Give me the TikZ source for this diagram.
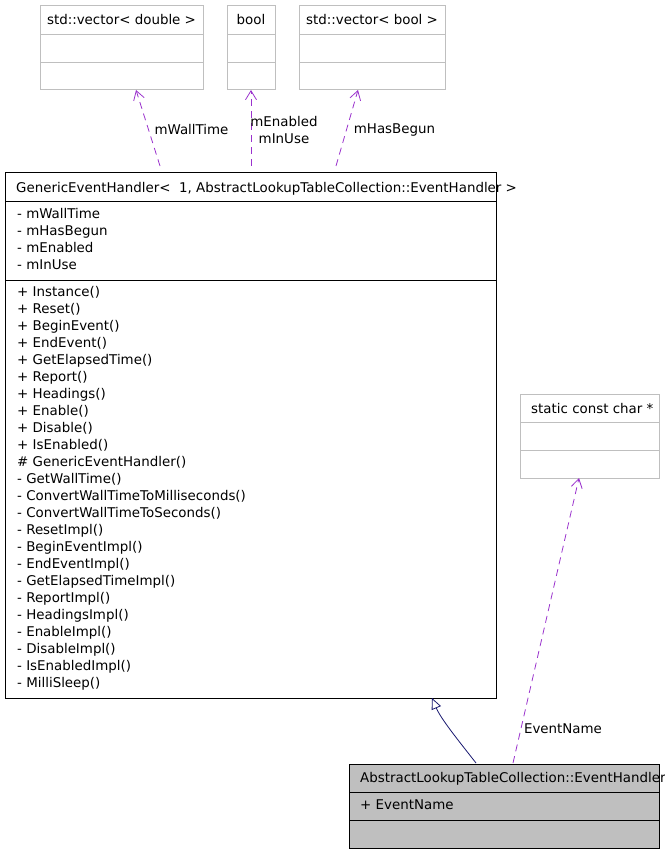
\documentclass[tikz,border=0pt]{standalone}
\usepackage{fontspec}
\setmainfont{DejaVu Sans}
\usetikzlibrary{arrows.meta}

\definecolor{depcol}{HTML}{9A32CD}
\definecolor{inhcol}{HTML}{191970}

\tikzset{
  classbox/.style={draw, rectangle, anchor=north west, inner sep=0pt, outer sep=0pt, line width=1pt},
  typebox/.style={classbox, draw=black!25},
  member/.style={anchor=base west, inner sep=0pt},
  usage/.style={draw=depcol, dash pattern=on 7pt off 5pt, line width=0.8pt, -{Straight Barb[length=9pt,width=11pt]}},
  inherit/.style={draw=inhcol, line width=0.8pt, -{Triangle[open,length=11pt,width=10pt]}},
  edgelabel/.style={inner sep=0pt, align=center},
}

\begin{document}
\begin{tikzpicture}[x=1pt, y=-1pt, font=\fontsize{13.4}{17}\selectfont]

    \useasboundingbox (0,0) rectangle (664,853);
    \clip (0,0) rectangle (664,853);

    % member types
    \node[typebox, minimum width=163pt, minimum height=84pt] (vecdbl) at (40,6) {};
    \draw[black!25] (40,34) -- ++(163,0) (40,62) -- ++(163,0);
    \node[member, anchor=base] (vecdbltitle) at (121.5,25) {std::vector< double >};

    \node[typebox, minimum width=48pt, minimum height=84pt] (boolbox) at (227,6) {};
    \draw[black!25] (227,34) -- ++(48,0) (227,62) -- ++(48,0);
    \node[member, anchor=base] (booltitle) at (251,25) {bool};

    \node[typebox, minimum width=146pt, minimum height=84pt] (vecbool) at (299,6) {};
    \draw[black!25] (299,34) -- ++(146,0) (299,62) -- ++(146,0);
    \node[member, anchor=base] (vecbooltitle) at (372,25) {std::vector< bool >};

    \node[typebox, minimum width=139pt, minimum height=84pt] (charptr) at (520,394) {};
    \draw[black!25] (520,422) -- ++(139,0) (520,450) -- ++(139,0);
    \node[member] (charptrtitle) at (531,413) {static const char *};

    % base class
    \node[classbox, minimum width=491pt, minimum height=525pt] (generic) at (5,173) {};
    \draw (5,201) -- ++(491,0) (5,280) -- ++(491,0);
    \node[member] (generictitle) at (16,192) {GenericEventHandler<\ \ 1, AbstractLookupTableCollection::EventHandler >};
    \foreach \txt [count=\i from 0] in {- mWallTime, - mHasBegun, - mEnabled, - mInUse}
        \node[member] (attr\i) at (17, 218.5+17*\i) {\txt};
    \foreach \txt [count=\i from 0] in {+ Instance(), + Reset(), + BeginEvent(), + EndEvent(),
        + GetElapsedTime(), + Report(), + Headings(), + Enable(), + Disable(), + IsEnabled(),
        \# GenericEventHandler(), - GetWallTime(), - ConvertWallTimeToMilliseconds(),
        - ConvertWallTimeToSeconds(), - ResetImpl(), - BeginEventImpl(), - EndEventImpl(),
        - GetElapsedTimeImpl(), - ReportImpl(), - HeadingsImpl(), - EnableImpl(),
        - DisableImpl(), - IsEnabledImpl(), - MilliSleep()}
        \node[member] (meth\i) at (17, 296.5+17*\i) {\txt};

    % derived class
    \node[classbox, fill=black!25, minimum width=310pt, minimum height=84pt] (handler) at (349,764) {};
    \draw (349,792) -- ++(310,0) (349,820) -- ++(310,0);
    \node[member] (handlertitle) at (360,782.5) {AbstractLookupTableCollection::EventHandler};
    \node[member] (handlerattr) at (360,809.5) {+ EventName};

    % connectors
    \coordinate (wtfrom) at (160,166);
    \coordinate (enfrom) at (251,166);
    \coordinate (hbfrom) at (336,166);
    \coordinate (enmfrom) at (513,763);
    \coordinate (inhfrom) at (476,763);

    \draw[usage] (wtfrom) -- ([xshift=14.5pt]vecdbl.south);
    \node[edgelabel] (wtlabel) at (191.5,130) {mWallTime};

    \draw[usage] (enfrom) -- (boolbox.south);
    \node[edgelabel] (enlabel) at (284,130.5) {mEnabled\\mInUse};

    \draw[usage] (hbfrom) -- ([xshift=-14pt]vecbool.south);
    \node[edgelabel] (hblabel) at (394.5,130) {mHasBegun};

    \draw[usage] (enmfrom) -- ([xshift=-10.5pt]charptr.south);
    \node[edgelabel] (enmlabel) at (563,729) {EventName};

    \draw[inherit] (inhfrom) .. controls (458,740) and (441,719) .. ([xshift=181.5pt]generic.south);

\end{tikzpicture}
\end{document}
